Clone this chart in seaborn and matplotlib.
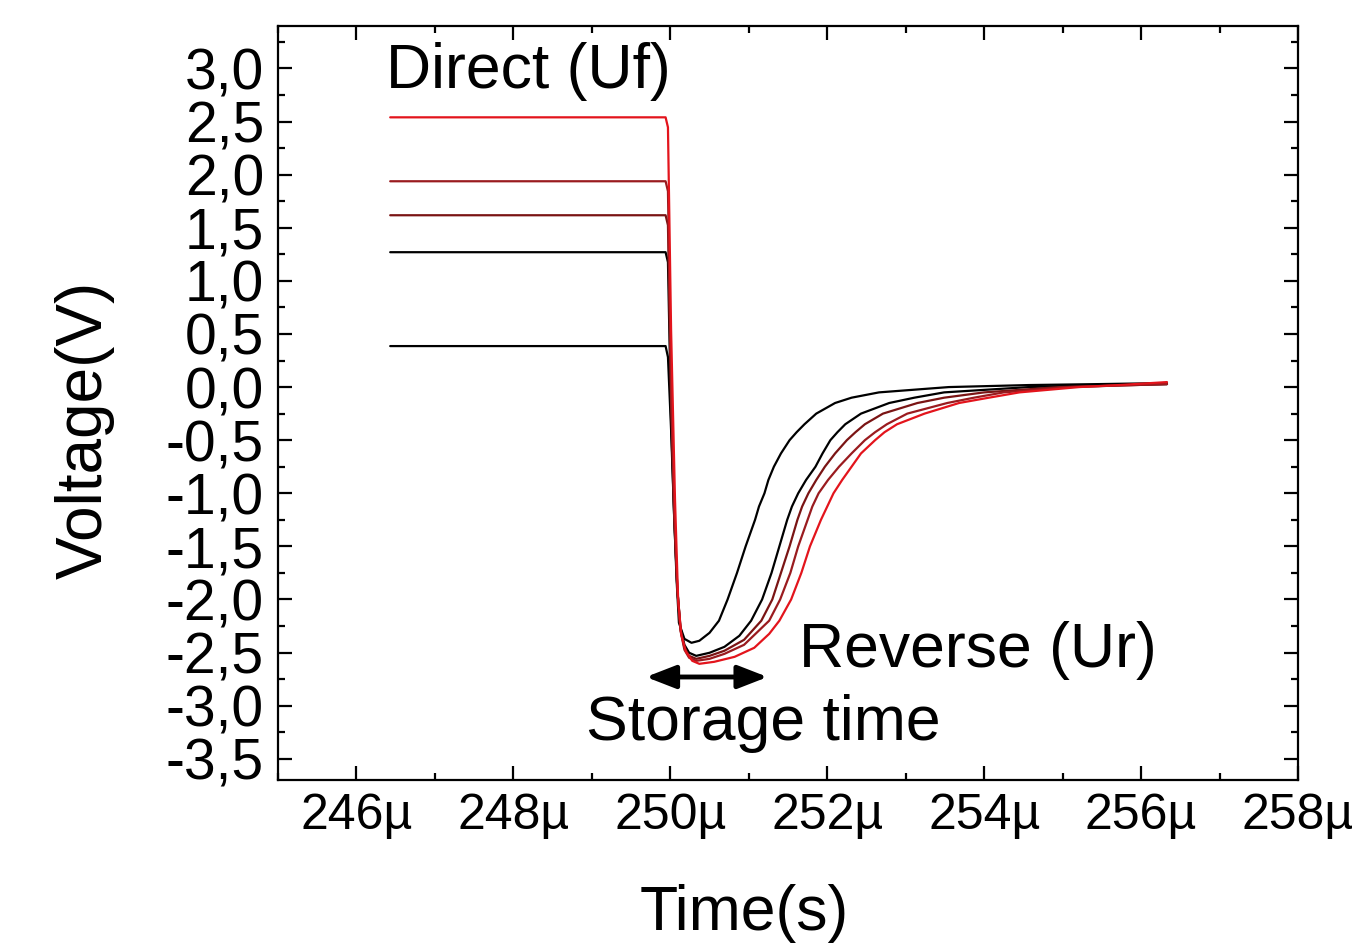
import matplotlib
matplotlib.use("Agg")
import matplotlib.pyplot as plt
from matplotlib.ticker import MultipleLocator, FixedLocator, FixedFormatter
import seaborn as sns
import pandas as pd

# ---------------- data (time in microseconds, voltage in V) ----------------
t_039 = [246.43, 249.94, 249.97, 250.01, 250.04, 250.08, 250.11, 250.18, 250.27, 250.37,
         250.50, 250.62, 250.73, 250.85, 250.96, 251.08, 251.13, 251.20, 251.25, 251.32,
         251.41, 251.52, 251.61, 251.71, 251.86, 252.10, 252.31, 252.66, 253.55, 254.57,
         255.46, 256.33]
v_039 = [0.386, 0.386, 0.282, -0.405, -1.035, -1.816, -2.220, -2.371, -2.408, -2.389,
         -2.314, -2.20, -2.00, -1.75, -1.50, -1.25, -1.125, -1.00, -0.875, -0.75,
         -0.625, -0.50, -0.425, -0.35, -0.25, -0.15, -0.10, -0.05, 0.000, 0.019,
         0.028, 0.038]

t_127 = [246.43, 249.94, 249.97, 250.01, 250.05, 250.09, 250.13, 250.18, 250.24, 250.33,
         250.50, 250.69, 250.88, 251.03, 251.17, 251.29, 251.39, 251.49, 251.55, 251.63,
         251.73, 251.85, 251.94, 252.04, 252.13, 252.23, 252.43, 252.79, 253.11, 253.49,
         254.57, 255.46, 256.33]
v_127 = [1.270, 1.270, 1.176, -0.310, -1.251, -1.910, -2.267, -2.427, -2.502, -2.531,
         -2.502, -2.446, -2.342, -2.20, -2.00, -1.75, -1.50, -1.25, -1.125, -1.00,
         -0.875, -0.75, -0.625, -0.50, -0.425, -0.35, -0.25, -0.15, -0.10, -0.05,
         0.000, 0.019, 0.028]

t_162 = [246.43, 249.94, 249.97, 250.01, 250.05, 250.09, 250.13, 250.18, 250.24, 250.33,
         250.50, 250.69, 250.94, 251.16, 251.30, 251.41, 251.52, 251.62, 251.68, 251.76,
         251.86, 251.97, 252.10, 252.25, 252.36, 252.48, 252.71, 253.15, 253.49, 254.00,
         254.96, 255.46, 256.33]
v_162 = [1.618, 1.618, 1.524, -0.122, -1.204, -1.910, -2.286, -2.455, -2.531, -2.559,
         -2.531, -2.483, -2.380, -2.20, -2.00, -1.75, -1.50, -1.25, -1.125, -1.00,
         -0.875, -0.75, -0.625, -0.50, -0.425, -0.35, -0.25, -0.15, -0.10, -0.05,
         0.000, 0.009, 0.028]

t_194 = [246.43, 249.94, 249.97, 250.01, 250.05, 250.09, 250.13, 250.18, 250.24, 250.33,
         250.50, 250.69, 250.94, 251.26, 251.40, 251.53, 251.63, 251.75, 251.81, 251.89,
         252.01, 252.15, 252.31, 252.48, 252.61, 252.76, 253.02, 253.53, 253.87, 254.25,
         255.08, 255.46, 256.33]
v_194 = [1.938, 1.938, 1.844, -0.028, -1.176, -1.910, -2.295, -2.474, -2.549, -2.578,
         -2.559, -2.512, -2.427, -2.20, -2.00, -1.75, -1.50, -1.25, -1.125, -1.00,
         -0.875, -0.75, -0.625, -0.50, -0.425, -0.35, -0.25, -0.15, -0.10, -0.05,
         0.000, 0.009, 0.028]

t_254 = [246.43, 249.94, 249.97, 250.01, 250.06, 250.10, 250.14, 250.20, 250.28, 250.37,
         250.56, 250.82, 251.07, 251.26, 251.39, 251.54, 251.67, 251.78, 251.92, 252.00,
         252.08, 252.19, 252.31, 252.43, 252.61, 252.73, 252.89, 253.24, 253.68, 254.06,
         254.45, 255.21, 255.72, 256.33]
v_254 = [2.540, 2.540, 2.446, 0.536, -1.063, -2.004, -2.333, -2.493, -2.578, -2.606,
         -2.587, -2.540, -2.455, -2.324, -2.20, -2.00, -1.75, -1.50, -1.25, -1.125,
         -1.00, -0.875, -0.75, -0.625, -0.50, -0.425, -0.35, -0.25, -0.15, -0.10,
         -0.05, 0.000, 0.019, 0.047]

series_names = ["Uf=0.39", "Uf=1.27", "Uf=1.62", "Uf=1.94", "Uf=2.54"]
series_colors = ["#000000", "#000000", "#7a1414", "#9a1b1f", "#e3141c"]

x_ticks = [246, 248, 250, 252, 254, 256, 258]
x_tick_labels = ["246µ", "248µ", "250µ", "252µ", "254µ", "256µ", "258µ"]
y_ticks = [3.0, 2.5, 2.0, 1.5, 1.0, 0.5, 0.0, -0.5, -1.0, -1.5, -2.0, -2.5, -3.0, -3.5]
y_tick_labels = ["3,0", "2,5", "2,0", "1,5", "1,0", "0,5", "0,0", "-0,5", "-1,0",
                 "-1,5", "-2,0", "-2,5", "-3,0", "-3,5"]

# ---------------- build frame ----------------
frames = []
for name, t, v in zip(series_names,
                      [t_039, t_127, t_162, t_194, t_254],
                      [v_039, v_127, v_162, v_194, v_254]):
    frames.append(pd.DataFrame({"time": t, "voltage": v, "series": name}))
df = pd.concat(frames, ignore_index=True)

# ---------------- style ----------------
sns.set_style("ticks")
plt.rcParams["font.family"] = ["Liberation Sans", "DejaVu Sans"]
plt.rcParams["axes.linewidth"] = 1.6
plt.rcParams["text.color"] = "black"
plt.rcParams["axes.labelcolor"] = "black"
plt.rcParams["xtick.color"] = "black"
plt.rcParams["ytick.color"] = "black"
plt.rcParams["axes.edgecolor"] = "black"

fig = plt.figure(figsize=(13.6, 9.46), dpi=100)
ax = fig.add_axes([278 / 1360, 1 - 780 / 946, 1020 / 1360, 754 / 946])

sns.lineplot(data=df, x="time", y="voltage", hue="series",
             palette=dict(zip(series_names, series_colors)),
             hue_order=series_names, estimator=None, sort=False,
             linewidth=1.6, legend=False, ax=ax)

ax.set_xlim(245, 258)
ax.set_ylim(-3.7, 3.4)

ax.xaxis.set_major_locator(FixedLocator(x_ticks))
ax.xaxis.set_major_formatter(FixedFormatter(x_tick_labels))
ax.xaxis.set_minor_locator(MultipleLocator(1))
ax.yaxis.set_major_locator(FixedLocator(y_ticks))
ax.yaxis.set_major_formatter(FixedFormatter(y_tick_labels))
ax.yaxis.set_minor_locator(MultipleLocator(0.25))

ax.tick_params(which="both", direction="in", top=True, right=True, width=1.6,
               color="black", labelcolor="black")
ax.tick_params(which="major", length=10)
ax.tick_params(which="minor", length=5)
ax.tick_params(axis="x", which="major", labelsize=36, pad=9)
ax.tick_params(axis="y", which="major", labelsize=41, pad=10)

for s in ax.spines.values():
    s.set_visible(True)
    s.set_color("black")

ax.set_xlabel("Time(s)", fontsize=45, color="black")
ax.xaxis.label.set_va("baseline")
ax.xaxis.set_label_coords(0.457, -0.199)
ax.set_ylabel("Voltage(V)", fontsize=46, color="black")
ax.yaxis.set_label_coords(-0.16, 0.465)

ax.text(246.38, 2.82, "Direct (Uf)", fontsize=45, ha="left", va="baseline", color="black")
ax.text(251.64, -2.64, "Reverse (Ur)", fontsize=45, ha="left", va="baseline", color="black")
ax.text(248.93, -3.32, "Storage time", fontsize=45, ha="left", va="baseline", color="black")

ax.annotate("", xy=(249.69, -2.73), xytext=(251.24, -2.73),
            arrowprops=dict(arrowstyle="<|-|>,head_length=1.8,head_width=0.7",
                            color="black", lw=3.5, shrinkA=0, shrinkB=0))

fig.savefig("out.png", dpi=100)
